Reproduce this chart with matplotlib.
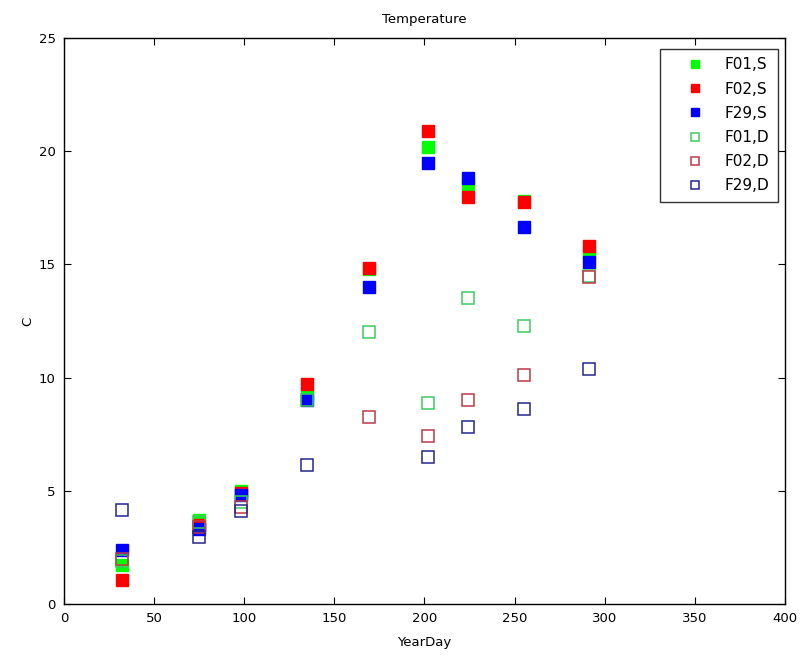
import matplotlib
matplotlib.use("Agg")
import matplotlib.pyplot as plt
import numpy as np

nan = np.nan
days = [32, 75, 98, 135, 169, 202, 224, 255, 291]

F01_S = [1.7, 3.7, 5.0, 9.25, 14.8, 20.2, 18.5, 17.8, 15.5]
F02_S = [1.05, 3.5, 4.9, 9.7, 14.85, 20.9, 18.0, 17.75, 15.8]
F29_S = [2.4, 3.3, 4.8, 9.0, 14.0, 19.5, 18.8, 16.65, 15.1]
F01_D = [1.9, 3.6, 4.5, 9.0, 12.0, 8.9, 13.5, 12.3, 14.5]
F02_D = [2.0, 3.4, 4.3, nan, 8.26, 7.4, 9.0, 10.1, 14.45]
F29_D = [4.15, 2.95, 4.1, 6.15, nan, 6.5, 7.8, 8.6, 10.4]

labels = ["F01,S", "F02,S", "F29,S", "F01,D", "F02,D", "F29,D"]
xticks = [0, 50, 100, 150, 200, 250, 300, 350, 400]
yticks = [0, 5, 10, 15, 20, 25]

fig = plt.figure(figsize=(8.02, 6.56), dpi=100)
ax = fig.add_axes([0.0798, 0.0793, 0.899, 0.8627])

ms = 8
ax.plot(days, F01_S, 's', color='#00ff00', mec='#00ff00', ms=ms, label=labels[0])
ax.plot(days, F02_S, 's', color='#ff0000', mec='#ff0000', ms=ms, label=labels[1])
ax.plot(days, F29_S, 's', color='#0000ff', mec='#0000ff', ms=ms, label=labels[2])
ax.plot(days, F01_D, 's', mfc='none', mec='#3ccc60', mew=1.1, ms=ms, label=labels[3])
ax.plot(days, F02_D, 's', mfc='none', mec='#c03848', mew=1.1, ms=ms, label=labels[4])
ax.plot(days, F29_D, 's', mfc='none', mec='#262690', mew=1.1, ms=ms, label=labels[5])

ax.set_xlim(0, 400)
ax.set_ylim(0, 25)
ax.set_xticks(xticks)
ax.set_yticks(yticks)
ax.tick_params(direction='in', top=True, right=True, labelsize=9.5, length=5, pad=6)
for s in ax.spines.values():
    s.set_linewidth(1.0)

ax.set_title("Temperature", fontsize=9.5, pad=11)
ax.set_xlabel("YearDay", fontsize=9.5, labelpad=8)
ax.set_ylabel("C", fontsize=9.5, labelpad=3)

leg = ax.legend(loc='upper right', bbox_to_anchor=(0.9903, 0.9806), borderaxespad=0,
                fontsize=11, fancybox=False, edgecolor='black', markerscale=0.75,
                borderpad=0.55, labelspacing=0.6, handletextpad=0.2, handlelength=3.5)
leg.get_frame().set_linewidth(1.0)

fig.savefig("out.png", dpi=100)
